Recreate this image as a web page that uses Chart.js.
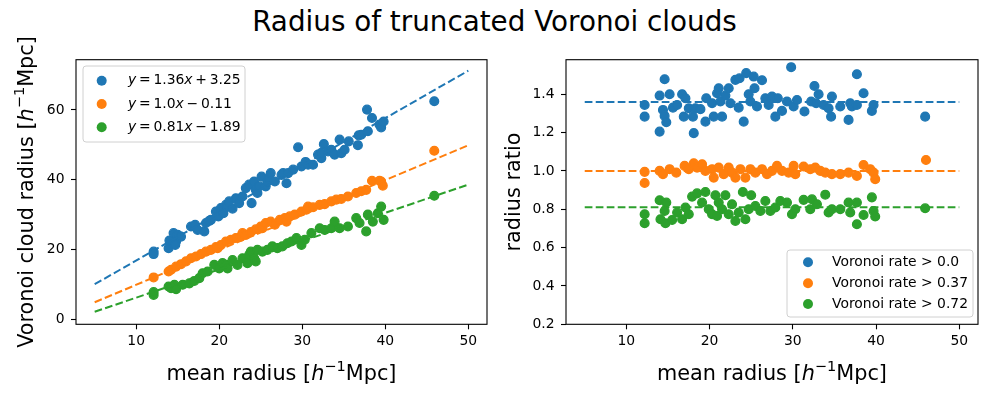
<!DOCTYPE html>
<html>
<head>
<meta charset="utf-8">
<script src="https://cdn.jsdelivr.net/npm/chart.js@4"></script>
<style>
    body { margin: 0; background: #fff; width: 989px; height: 396px; position: relative; overflow: hidden; font-family: "DejaVu Sans"; }
    #title { position: absolute; left: 0; top: 6px; width: 989px; text-align: center; font-size: 27.8px; line-height: 32px; color: #000; }
    #leftChart { position: absolute; left: 0; top: 0; }
    #rightChart { position: absolute; left: 494px; top: 0; }
</style>
</head>
<body>
<div id="title">Radius of truncated Voronoi clouds</div>
<canvas id="leftChart" width="494" height="396"></canvas>
<canvas id="rightChart" width="495" height="396"></canvas>
<script>
// Radius of truncated Voronoi clouds - two panels

const colors = ['#1f77b4', '#ff7f0e', '#2ca02c'];
const xTicks = [10, 20, 30, 40, 50];
const cloudTicks = [0, 20, 40, 60];
const ratioTicks = [0.2, 0.4, 0.6, 0.8, 1.0, 1.2, 1.4];

// fitted lines y = a x + b
const fitSlopes = [1.36, 1.0, 0.81];
const fitIntercepts = [3.25, -0.11, -1.89];
const fitRange = [5, 50];

const fitLabels = [
    [{ t: 'y', it: true }, { t: '\u2009=\u20091.36' }, { t: 'x', it: true }, { t: '\u2009+\u20093.25' }],
    [{ t: 'y', it: true }, { t: '\u2009=\u20091.0' }, { t: 'x', it: true }, { t: '\u2009\u2212\u20090.11' }],
    [{ t: 'y', it: true }, { t: '\u2009=\u20090.81' }, { t: 'x', it: true }, { t: '\u2009\u2212\u20091.89' }]
];
const rateLabels = ['Voronoi rate > 0.0', 'Voronoi rate > 0.37', 'Voronoi rate > 0.72'];

// left panel: mean radius vs cloud radius
const blueMean = [12.1, 12.1, 13.9, 14.0, 14.5, 14.8, 14.7, 15.0, 15.4, 16.6, 17.1, 17.4, 18.2, 18.4, 18.8, 19.0, 19.6, 19.9, 20.2, 20.5, 20.8, 21.0, 21.2, 21.6, 22.0, 22.4, 22.8, 23.2, 23.6, 23.9, 24.2, 24.4, 24.6, 24.8, 25.1, 25.6, 25.8, 26.0, 26.2, 26.7, 27.5, 27.7, 28.1, 28.3, 28.9, 29.5, 29.9, 30.4, 30.7, 31.3, 31.9, 32.3, 32.3, 32.6, 33.1, 33.5, 33.9, 34.5, 34.7, 35.1, 35.6, 36.7, 36.8, 37.1, 37.8, 37.9, 38.4, 39.3, 39.5, 39.8, 45.9];
const blueCloud = [19.4, 18.7, 20.4, 22.6, 24.7, 22.3, 21.3, 24.2, 23.7, 26.6, 27.1, 25.6, 25.2, 27.6, 28.2, 28.5, 30.9, 29.5, 31.9, 30.4, 32.8, 32.3, 33.8, 31.7, 34.7, 33.3, 35.2, 37.6, 38.6, 33.3, 39.5, 37.1, 36.2, 38.1, 40.9, 38.1, 39.5, 40.4, 41.9, 39.5, 41.4, 41.9, 39.0, 41.9, 42.9, 49.3, 43.8, 45.1, 44.3, 44.3, 47.2, 46.2, 47.7, 50.2, 48.1, 48.6, 47.2, 51.5, 47.6, 48.6, 51.0, 49.9, 52.7, 52.9, 60.1, 53.9, 57.7, 55.8, 55.0, 56.7, 62.5];
const orangeMean = [12.1, 13.9, 14.2, 14.8, 15.4, 16.0, 16.6, 17.2, 17.8, 18.4, 19.0, 19.6, 19.8, 20.2, 20.8, 21.4, 22.0, 22.6, 22.8, 23.2, 23.8, 24.4, 25.0, 25.2, 25.6, 26.2, 26.7, 27.3, 27.9, 28.1, 28.5, 29.1, 29.9, 30.5, 30.7, 31.3, 32.1, 32.7, 33.5, 34.1, 34.7, 35.5, 36.5, 37.1, 37.7, 38.4, 39.3, 39.5, 39.7, 45.9];
const orangeCloud = [12.0, 13.7, 14.2, 15.1, 15.8, 16.6, 17.5, 18.0, 18.7, 19.4, 19.9, 20.7, 20.4, 21.3, 22.3, 22.8, 23.3, 23.7, 24.7, 24.2, 25.0, 25.8, 26.6, 26.1, 27.6, 28.0, 27.1, 28.5, 29.0, 28.0, 29.5, 30.0, 30.9, 31.4, 32.3, 32.1, 32.8, 33.0, 33.8, 34.3, 34.5, 35.2, 36.2, 36.7, 37.1, 39.7, 39.7, 39.5, 38.3, 48.3];
const greenMean = [12.1, 12.1, 13.9, 14.2, 14.6, 14.8, 15.6, 16.4, 17.0, 17.6, 18.0, 18.6, 19.4, 20.0, 20.4, 20.8, 21.0, 21.6, 22.2, 22.8, 23.4, 23.6, 23.8, 24.2, 24.4, 24.6, 25.2, 25.8, 26.4, 27.0, 27.6, 28.2, 28.7, 29.3, 29.9, 30.3, 31.1, 32.1, 32.7, 33.5, 33.9, 34.5, 35.5, 36.5, 36.9, 37.7, 37.9, 38.5, 39.1, 39.5, 39.8, 45.9];
const greenCloud = [7.0, 7.8, 9.4, 8.9, 9.9, 8.6, 9.9, 10.3, 11.0, 11.8, 13.2, 13.7, 15.6, 14.6, 16.1, 15.6, 14.6, 17.0, 15.6, 17.5, 16.1, 18.5, 19.4, 17.5, 16.6, 19.9, 19.4, 19.9, 20.9, 20.4, 20.9, 21.8, 22.3, 23.3, 21.3, 22.8, 24.7, 26.1, 25.6, 26.1, 28.0, 26.1, 26.6, 29.0, 27.6, 25.2, 30.0, 28.0, 30.4, 32.3, 28.5, 35.4];

// right panel: mean radius vs radius ratio
const blueRatioMean = [12.2, 12.2, 14.0, 14.0, 14.6, 14.4, 14.6, 14.8, 15.2, 15.6, 16.1, 16.7, 17.1, 16.9, 17.5, 18.0, 18.1, 18.3, 18.9, 19.5, 19.6, 20.3, 20.5, 20.9, 21.1, 21.3, 21.5, 21.9, 22.3, 22.5, 23.1, 23.5, 23.6, 24.1, 24.4, 24.7, 24.9, 25.3, 25.4, 25.7, 26.3, 26.7, 27.1, 27.5, 27.9, 28.2, 28.7, 29.3, 29.8, 30.1, 30.5, 31.4, 32.2, 32.6, 32.8, 33.1, 33.7, 34.3, 34.6, 34.7, 35.7, 36.7, 36.9, 37.1, 37.7, 37.7, 38.5, 39.5, 39.7, 45.9];
const blueRatio = [1.344, 1.283, 1.205, 1.393, 1.478, 1.318, 1.287, 1.254, 1.400, 1.330, 1.344, 1.400, 1.379, 1.283, 1.327, 1.283, 1.197, 1.327, 1.322, 1.257, 1.379, 1.353, 1.283, 1.405, 1.431, 1.362, 1.283, 1.393, 1.431, 1.353, 1.475, 1.330, 1.483, 1.257, 1.510, 1.400, 1.362, 1.492, 1.431, 1.336, 1.473, 1.379, 1.344, 1.388, 1.283, 1.379, 1.313, 1.362, 1.541, 1.336, 1.370, 1.310, 1.362, 1.443, 1.353, 1.400, 1.344, 1.327, 1.283, 1.388, 1.336, 1.266, 1.353, 1.336, 1.504, 1.344, 1.405, 1.313, 1.344, 1.283];
const orangeRatioMean = [12.2, 12.2, 14.0, 14.4, 15.2, 16.0, 17.0, 17.5, 18.1, 18.5, 19.1, 19.5, 20.3, 20.5, 21.1, 21.7, 22.3, 22.7, 23.1, 23.7, 24.3, 24.9, 25.5, 26.3, 26.9, 27.5, 28.1, 28.7, 29.5, 30.1, 30.3, 31.3, 32.1, 32.7, 33.3, 33.9, 34.7, 35.7, 36.7, 37.7, 38.5, 39.3, 39.7, 39.9, 46.0];
const orangeRatio = [0.995, 0.937, 1.000, 0.983, 1.009, 0.991, 1.026, 1.009, 1.040, 1.017, 1.035, 1.000, 1.009, 0.965, 1.017, 0.983, 1.017, 0.991, 0.965, 1.009, 0.965, 1.009, 0.991, 1.009, 0.983, 1.000, 1.026, 1.000, 0.991, 1.026, 0.983, 1.023, 1.009, 1.017, 1.000, 0.991, 0.983, 0.983, 0.991, 0.974, 1.031, 1.009, 0.991, 0.957, 1.057];
const greenRatioMean = [12.2, 12.2, 14.0, 14.1, 14.6, 14.7, 14.8, 15.5, 16.1, 16.7, 17.1, 17.5, 17.9, 18.5, 19.1, 19.5, 19.9, 20.3, 20.7, 20.9, 21.1, 21.5, 21.9, 22.3, 22.7, 23.1, 23.5, 24.0, 24.3, 24.7, 25.0, 25.5, 26.1, 26.7, 27.3, 27.9, 28.5, 29.3, 29.9, 30.3, 31.3, 32.1, 32.3, 32.9, 33.9, 34.3, 34.7, 35.7, 36.7, 36.9, 37.7, 37.7, 38.5, 39.5, 39.7, 39.9, 45.9];
const greenRatio = [0.774, 0.727, 0.847, 0.748, 0.791, 0.727, 0.835, 0.744, 0.783, 0.748, 0.809, 0.774, 0.866, 0.883, 0.835, 0.890, 0.800, 0.774, 0.873, 0.765, 0.835, 0.800, 0.873, 0.774, 0.826, 0.739, 0.783, 0.890, 0.748, 0.800, 0.873, 0.817, 0.791, 0.843, 0.791, 0.809, 0.843, 0.835, 0.774, 0.800, 0.849, 0.800, 0.852, 0.826, 0.876, 0.783, 0.800, 0.800, 0.835, 0.783, 0.835, 0.722, 0.770, 0.862, 0.791, 0.762, 0.805];

const FONT = '"DejaVu Sans"';
Chart.defaults.color = '#000';
Chart.defaults.font.family = FONT;

const pts = (xs, ys) => xs.map((x, i) => ({ x: x, y: ys[i] }));

function scatterSet(label, data, color) {
    return {
        type: 'scatter', label: label, data: data,
        backgroundColor: color, borderColor: color,
        pointRadius: 4.4, pointBorderWidth: 1.3, pointHoverRadius: 4.4
    };
}

function dashSet(data, color) {
    return {
        type: 'line', data: data,
        borderColor: color, borderWidth: 2, borderDash: [7.7, 3.3],
        pointRadius: 0, fill: false, tension: 0, order: -1
    };
}

// draw text made of parts (italic / superscript)
function drawRich(ctx, parts, x, y, size, align) {
    const fontOf = p => (p.it ? 'italic ' : '') + (p.sup ? size * 0.7 : size) + 'px ' + FONT;
    let total = 0;
    parts.forEach(p => { ctx.font = fontOf(p); total += ctx.measureText(p.t).width; });
    let cx = align === 'center' ? x - total / 2 : x;
    ctx.textAlign = 'left';
    parts.forEach(p => {
        ctx.font = fontOf(p);
        ctx.fillText(p.t, cx, y - (p.sup ? size * 0.42 : 0));
        cx += ctx.measureText(p.t).width;
    });
}

const radiusTitle = [{ t: 'mean radius [' }, { t: 'h', it: true }, { t: '\u22121', sup: true }, { t: 'Mpc]' }];
const cloudTitle = [{ t: 'Voronoi cloud radius [' }, { t: 'h', it: true }, { t: '\u22121', sup: true }, { t: 'Mpc]' }];
const ratioTitle = [{ t: 'radius ratio' }];

function decorPlugin(cfg) {
    return {
        id: 'decor',
        afterDraw(chart) {
            const ctx = chart.ctx, a = chart.chartArea;
            ctx.save();
            // frame
            ctx.strokeStyle = '#000';
            ctx.lineWidth = 1.1;
            ctx.strokeRect(a.left, a.top, a.right - a.left, a.bottom - a.top);

            // axis titles
            ctx.fillStyle = '#000';
            ctx.textBaseline = 'alphabetic';
            drawRich(ctx, radiusTitle, (a.left + a.right) / 2, 379.5, 20.8, 'center');
            ctx.save();
            ctx.translate(cfg.yTitleX, (a.top + a.bottom) / 2);
            ctx.rotate(-Math.PI / 2);
            drawRich(ctx, cfg.yTitle, 0, 0, 20.8, 'center');
            ctx.restore();

            // legend
            const L = cfg.legend;
            ctx.beginPath();
            ctx.roundRect(L.x, L.y, L.w, L.h, 3);
            ctx.fillStyle = 'rgba(255,255,255,0.8)';
            ctx.fill();
            ctx.strokeStyle = '#d0d0d0';
            ctx.lineWidth = 1;
            ctx.stroke();
            L.rows.forEach((row, i) => {
                ctx.fillStyle = colors[i];
                ctx.beginPath();
                ctx.arc(L.markX, row, 5, 0, Math.PI * 2);
                ctx.fill();
                ctx.fillStyle = '#000';
                ctx.textBaseline = 'middle';
                const parts = typeof L.labels[i] === 'string' ? [{ t: L.labels[i] }] : L.labels[i];
                drawRich(ctx, parts, L.textX, row, 13.9, 'left');
            });
            ctx.restore();
        }
    };
}

function makeScales(yMin, yMax, yTicks, yWidth, fmt) {
    const tickGrid = { display: true, drawOnChartArea: false, drawTicks: true, tickLength: 5, tickColor: '#000', tickWidth: 1.1 };
    return {
        x: {
            type: 'linear', position: 'bottom', min: 2.75, max: 52.25,
            afterBuildTicks: s => { s.ticks = xTicks.map(v => ({ value: v })); },
            afterFit: s => { s.height = 71.7; },
            grid: tickGrid, border: { display: false },
            ticks: { color: '#000', font: { size: 13.9 }, padding: 4, maxRotation: 0 }
        },
        y: {
            type: 'linear', position: 'left', min: yMin, max: yMax,
            afterBuildTicks: s => { s.ticks = yTicks.map(v => ({ value: v })); },
            afterFit: s => { s.width = yWidth; },
            grid: tickGrid, border: { display: false },
            ticks: { color: '#000', font: { size: 13.9 }, padding: 6.5, callback: fmt }
        }
    };
}

const lineEnds = (a, b) => fitRange.map(x => ({ x: x, y: a * x + b }));

new Chart(document.getElementById('leftChart'), {
    data: {
        datasets: [
            scatterSet('blue', pts(blueMean, blueCloud), colors[0]),
            scatterSet('orange', pts(orangeMean, orangeCloud), colors[1]),
            scatterSet('green', pts(greenMean, greenCloud), colors[2]),
            dashSet(lineEnds(fitSlopes[0], fitIntercepts[0]), colors[0]),
            dashSet(lineEnds(fitSlopes[1], fitIntercepts[1]), colors[1]),
            dashSet(lineEnds(fitSlopes[2], fitIntercepts[2]), colors[2])
        ]
    },
    options: {
        responsive: false, animation: false, events: [],
        layout: { padding: { top: 59.7, right: 7, left: 0, bottom: 0 } },
        plugins: { legend: { display: false }, tooltip: { enabled: false } },
        scales: makeScales(-1.43, 74.4, cloudTicks, 76, v => String(v))
    },
    plugins: [decorPlugin({
        yTitle: cloudTitle, yTitleX: 33,
        legend: { x: 83, y: 66, w: 162, h: 76, markX: 101.7, textX: 128, rows: [80.7, 104, 127.3], labels: fitLabels }
    })]
});

new Chart(document.getElementById('rightChart'), {
    data: {
        datasets: [
            scatterSet('blue', pts(blueRatioMean, blueRatio), colors[0]),
            scatterSet('orange', pts(orangeRatioMean, orangeRatio), colors[1]),
            scatterSet('green', pts(greenRatioMean, greenRatio), colors[2]),
            dashSet(lineEnds(0, fitSlopes[0]), colors[0]),
            dashSet(lineEnds(0, fitSlopes[1]), colors[1]),
            dashSet(lineEnds(0, fitSlopes[2]), colors[2])
        ]
    },
    options: {
        responsive: false, animation: false, events: [],
        layout: { padding: { top: 59.7, right: 11, left: 0, bottom: 0 } },
        plugins: { legend: { display: false }, tooltip: { enabled: false } },
        scales: makeScales(0.2, 1.58, ratioTicks, 72, v => Number(v).toFixed(1))
    },
    plugins: [decorPlugin({
        yTitle: ratioTitle, yTitleX: 26,
        legend: { x: 293, y: 250, w: 186, h: 67, markX: 314, textX: 338, rows: [262.3, 283.3, 304], labels: rateLabels }
    })]
});
</script>
</body>
</html>
